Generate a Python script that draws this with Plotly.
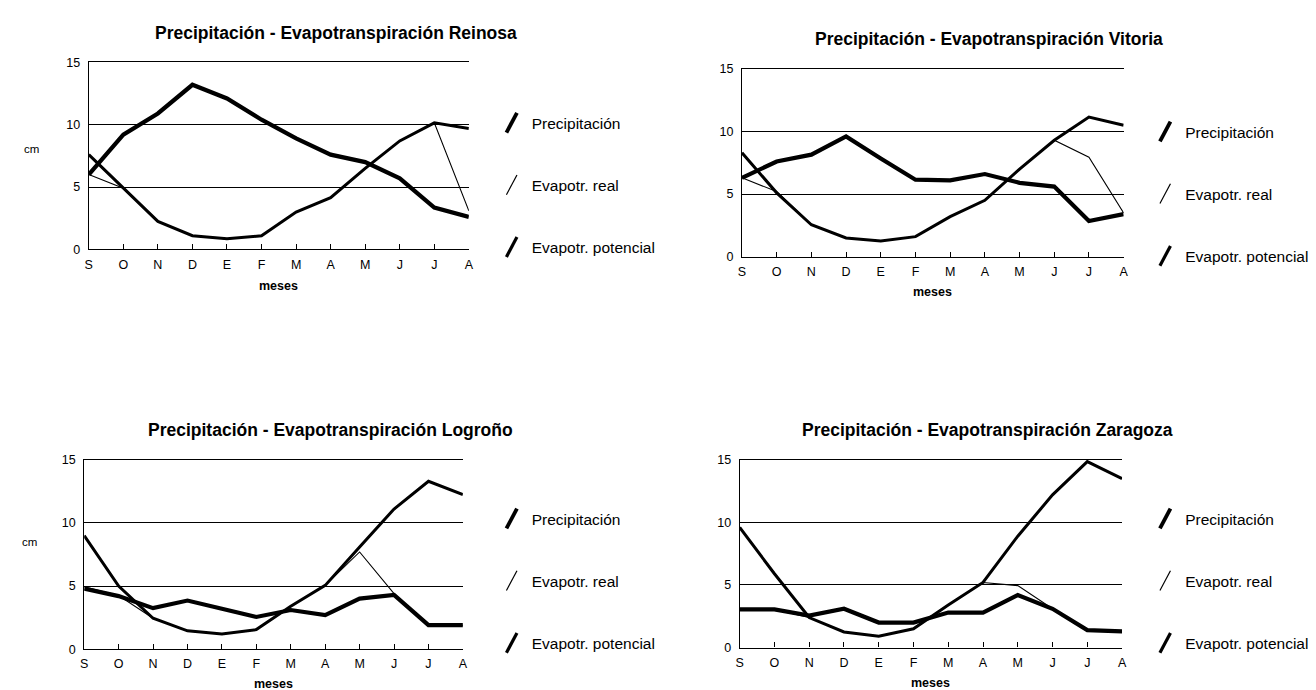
import plotly.graph_objects as go

W, H = 1316, 690

months = ["S", "O", "N", "D", "E", "F", "M", "A", "M", "J", "J", "A"]
x_idx = list(range(len(months)))

series_names = ["Precipitación", "Evapotr. real", "Evapotr. potencial"]

# Reinosa
reinosa_prec = [6.0, 9.2, 10.9, 13.2, 12.1, 10.4, 8.9, 7.6, 7.0, 5.7, 3.35, 2.6]
reinosa_etp = [7.6, 4.9, 2.25, 1.1, 0.85, 1.1, 3.0, 4.15, 6.5, 8.7, 10.15, 9.7]
reinosa_etr = [6.0, 4.9, 2.25, 1.1, 0.85, 1.1, 3.0, 4.15, 6.5, 8.7, 10.15, 3.1]

# Vitoria
vitoria_prec = [6.3, 7.6, 8.15, 9.6, 7.85, 6.15, 6.1, 6.6, 5.9, 5.6, 2.85, 3.4]
vitoria_etp = [8.3, 5.1, 2.55, 1.5, 1.25, 1.6, 3.2, 4.5, 7.0, 9.3, 11.15, 10.5]
vitoria_etr = [6.3, 5.2, 2.55, 1.5, 1.25, 1.6, 3.2, 4.5, 7.0, 9.3, 7.95, 3.5]

# Logroño
logrono_prec = [4.8, 4.2, 3.25, 3.85, 3.2, 2.55, 3.1, 2.7, 4.0, 4.3, 1.9, 1.9]
logrono_etp = [9.0, 5.0, 2.45, 1.45, 1.2, 1.55, 3.4, 5.05, 8.1, 11.1, 13.3, 12.25]
logrono_etr = [4.95, 4.25, 2.45, 1.45, 1.2, 1.55, 3.4, 5.05, 7.7, 4.4, 1.9, 1.9]

# Zaragoza
zaragoza_prec = [3.05, 3.05, 2.55, 3.1, 2.0, 2.0, 2.8, 2.8, 4.2, 3.1, 1.4, 1.3]
zaragoza_etp = [9.6, 5.9, 2.4, 1.25, 0.9, 1.5, 3.4, 5.2, 8.9, 12.2, 14.85, 13.5]
zaragoza_etr = [3.05, 3.05, 2.4, 1.25, 0.9, 1.5, 3.4, 5.2, 4.95, 3.1, 1.4, 1.3]

y_ticks = [0, 5, 10, 15]

stations = [
    ("Reinosa", reinosa_prec, reinosa_etr, reinosa_etp),
    ("Vitoria", vitoria_prec, vitoria_etr, vitoria_etp),
    ("Logroño", logrono_prec, logrono_etr, logrono_etp),
    ("Zaragoza", zaragoza_prec, zaragoza_etr, zaragoza_etp),
]

# layout (pixels): plot area x0, x1, y_top, y_bottom
panels = [
    dict(x0=77.3, x1=460.0, yt=48.3, yb=239.3, title_x=141.7, title_y=18.3,
         leg_x=483, leg_y=93, cm=(20, 137), meses=(268, 277)),
    dict(x0=735.0, x1=1119.3, yt=55.0, yb=246.7, title_x=806.7, title_y=25.0,
         leg_x=1141, leg_y=102, cm=None, meses=(927, 283)),
    dict(x0=72.7, x1=454.0, yt=454.0, yb=647.3, title_x=135.0, title_y=423.3,
         leg_x=483, leg_y=497, cm=(18, 538), meses=(263, 683)),
    dict(x0=732.7, x1=1117.7, yt=454.0, yb=645.7, title_x=793.3, title_y=423.3,
         leg_x=1141, leg_y=497, cm=None, meses=(925, 682)),
]

FONT = "Liberation Sans, Arial, sans-serif"
line_widths = [4.2, 1.1, 3.0]
legend_widths = [3.8, 1.2, 3.2]


def px(x):
    return x / W


def py(y):
    return 1 - y / H


fig = go.Figure()
annotations = []
layout = dict(
    width=W, height=H,
    margin=dict(l=0, r=0, t=0, b=0),
    paper_bgcolor="white", plot_bgcolor="white",
    showlegend=True,
    font=dict(family=FONT, color="black"),
)

for i, (name, prec, etr, etp) in enumerate(stations):
    p = panels[i]
    n = "" if i == 0 else str(i + 1)
    xa, ya = "x" + n, "y" + n
    leg = "legend" + n
    data = [prec, etr, etp]
    # draw order: potencial, precipitacion, real on top
    for k in [2, 0, 1]:
        fig.add_trace(go.Scatter(
            x=x_idx, y=data[k], xaxis=xa, yaxis=ya, mode="lines",
            line=dict(color="black", width=line_widths[k]),
            showlegend=False, hoverinfo="skip",
        ))
    for k in range(3):
        fig.add_trace(go.Scatter(
            x=[None], y=[None], xaxis=xa, yaxis=ya, mode="markers",
            name=series_names[k], legend=leg, legendgroup=f"g{i}{k}",
            marker=dict(symbol="line-ns", size=16, angle=28, color="black",
                        line=dict(color="black", width=legend_widths[k])),
        ))
    layout["xaxis" + n] = dict(
        domain=[px(p["x0"]), px(p["x1"])], anchor=ya, range=[0, 11],
        tickmode="array", tickvals=x_idx, ticktext=months,
        showline=True, mirror=True, linecolor="black", linewidth=1.3,
        ticks="inside", ticklen=5, tickcolor="black", tickwidth=1,
        showgrid=False, zeroline=False, ticklabelstandoff=3,
        tickfont=dict(family=FONT, size=12.5, color="black"),
        fixedrange=True,
    )
    layout["yaxis" + n] = dict(
        domain=[py(p["yb"]), py(p["yt"])], anchor=xa, range=[0, 15],
        tickmode="array", tickvals=y_ticks,
        showline=True, linecolor="black", linewidth=1,
        ticks="", showgrid=True, gridcolor="black", gridwidth=1,
        zeroline=False, ticklabelstandoff=5,
        tickfont=dict(family=FONT, size=12.5, color="black"),
        fixedrange=True,
    )
    layout[leg] = dict(
        x=px(p["leg_x"]), y=py(p["leg_y"]), xanchor="left", yanchor="top",
        bgcolor="rgba(0,0,0,0)", borderwidth=0, tracegroupgap=39,
        font=dict(family=FONT, size=15.5, color="black"), itemwidth=30,
    )
    annotations.append(dict(
        text="Precipitación - Evapotranspiración " + name,
        x=px(p["title_x"]), y=py(p["title_y"]), xref="paper", yref="paper",
        xanchor="left", yanchor="middle", showarrow=False,
        font=dict(family=FONT, size=17.5, color="black", weight="bold"),
    ))
    annotations.append(dict(
        text="meses", x=px(p["meses"][0]), y=py(p["meses"][1]),
        xref="paper", yref="paper", xanchor="center", yanchor="middle",
        showarrow=False, font=dict(family=FONT, size=12.5, color="black", weight="bold"),
    ))
    if p["cm"]:
        annotations.append(dict(
            text="cm", x=px(p["cm"][0]), y=py(p["cm"][1]),
            xref="paper", yref="paper", xanchor="center", yanchor="middle",
            showarrow=False, font=dict(family=FONT, size=11.5, color="black"),
        ))

layout["annotations"] = annotations
fig.update_layout(**layout)
fig.write_html("out.html")
